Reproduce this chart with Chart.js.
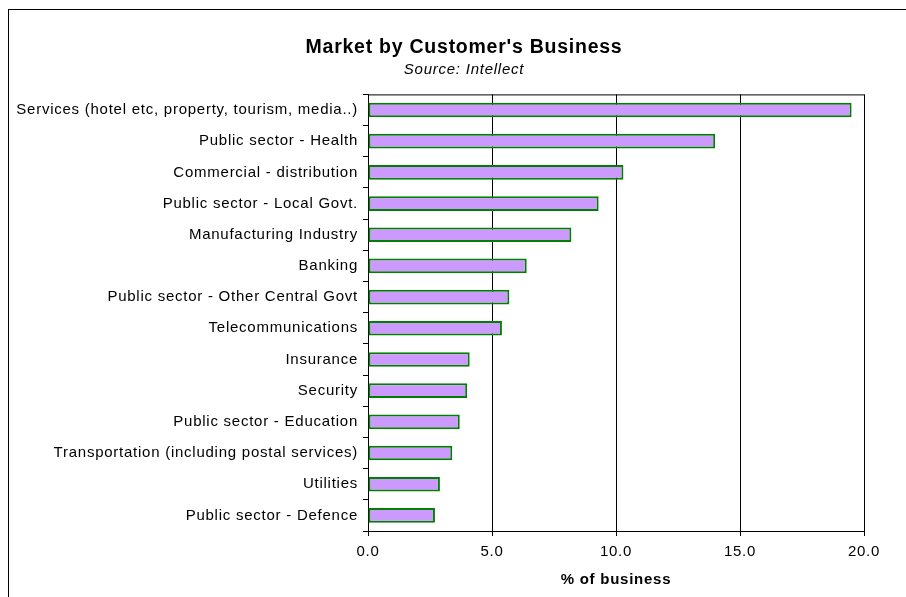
<!DOCTYPE html>
<html>
<head>
<meta charset="utf-8">
<script src="https://cdn.jsdelivr.net/npm/chart.js@4.4.0/dist/chart.umd.min.js"></script>
<style>
  html, body { margin: 0; padding: 0; background: #fff; overflow: hidden; }
  #frame {
    position: absolute; left: 8px; top: 9px;
    width: 920px; height: 620px;
    border: 1px solid #000;
  }
  #frame canvas { display: block; }
</style>
</head>
<body>
<div id="frame"><canvas id="marketChart" width="920" height="620"></canvas></div>
<script>
(function() {
    // categories, top to bottom
    const categories = [
        'Services (hotel etc, property, tourism, media..)',
        'Public sector - Health',
        'Commercial - distribution',
        'Public sector - Local Govt.',
        'Manufacturing Industry',
        'Banking',
        'Public sector - Other Central Govt',
        'Telecommunications',
        'Insurance',
        'Security',
        'Public sector - Education',
        'Transportation (including postal services)',
        'Utilities',
        'Public sector - Defence'
    ];
    // % of business
    const shares = [19.5, 14.0, 10.3, 9.3, 8.2, 6.4, 5.7, 5.4, 4.1, 4.0, 3.7, 3.4, 2.9, 2.7];
    const xTicks = [0, 5, 10, 15, 20];

    const FONT = 'Arial, "Liberation Sans", sans-serif';

    // slightly wider text, like the original office chart
    const spacing = {
        id: 'spacing',
        beforeDraw(chart) { chart.ctx.letterSpacing = '0.75px'; }
    };

    // closes the plot box on the top and right
    const plotBox = {
        id: 'plotBox',
        afterDraw(chart) {
            const a = chart.chartArea;
            const c = chart.ctx;
            c.save();
            c.strokeStyle = '#000';
            c.lineWidth = 1;
            c.beginPath();
            c.moveTo(a.left, a.top + 0.5);
            c.lineTo(a.right + 0.5, a.top + 0.5);
            c.lineTo(a.right + 0.5, a.bottom);
            c.stroke();
            c.restore();
        }
    };

    const ctx = document.getElementById('marketChart').getContext('2d');
    new Chart(ctx, {
        type: 'bar',
        data: {
            labels: categories,
            datasets: [{
                data: shares,
                backgroundColor: '#CC99FF',
                borderColor: '#008000',
                borderWidth: 2,
                borderSkipped: false,
                categoryPercentage: 1,
                barPercentage: 0.47
            }]
        },
        plugins: [spacing, plotBox],
        options: {
            indexAxis: 'y',
            responsive: false,
            animation: false,
            layout: { padding: { left: 0, right: 10, top: 0, bottom: 41 } },
            plugins: {
                legend: { display: false },
                tooltip: { enabled: false },
                title: {
                    display: true,
                    text: "Market by Customer's Business",
                    color: '#000',
                    font: { family: FONT, size: 19.5, weight: 'bold' },
                    padding: { top: 26, bottom: 1 }
                },
                subtitle: {
                    display: true,
                    text: 'Source: Intellect',
                    color: '#000',
                    font: { family: FONT, size: 15, style: 'italic' },
                    padding: { top: 0, bottom: 16 }
                }
            },
            scales: {
                x: {
                    min: 0,
                    max: 20,
                    afterBuildTicks(scale) {
                        scale.ticks = xTicks.map(v => ({ value: v }));
                    },
                    afterFit(scale) { scale.height = 58; },
                    ticks: {
                        color: '#000',
                        font: { family: FONT, size: 15 },
                        padding: 7,
                        maxRotation: 0,
                        callback: v => Number(v).toFixed(1)
                    },
                    grid: {
                        color: '#000',
                        lineWidth: 1,
                        tickLength: 5,
                        drawOnChartArea: true
                    },
                    border: { color: '#000', width: 1 },
                    title: {
                        display: true,
                        text: '% of business',
                        color: '#000',
                        font: { family: FONT, size: 15, weight: 'bold' },
                        padding: { top: 10, bottom: 0 }
                    }
                },
                y: {
                    afterFit(scale) { scale.width = 359; },
                    ticks: {
                        color: '#000',
                        font: { family: FONT, size: 15 },
                        padding: 5,
                        autoSkip: false
                    },
                    grid: {
                        color: '#000',
                        lineWidth: 1,
                        tickLength: 5,
                        drawOnChartArea: false,
                        offset: true
                    },
                    border: { color: '#000', width: 1 }
                },
                // empty margin on the right of the plot box
                gutter: {
                    type: 'linear',
                    position: 'right',
                    afterFit(scale) { scale.width = 55; },
                    ticks: { display: false },
                    grid: { display: false },
                    border: { display: false }
                }
            }
        }
    });
})();
</script>
</body>
</html>
